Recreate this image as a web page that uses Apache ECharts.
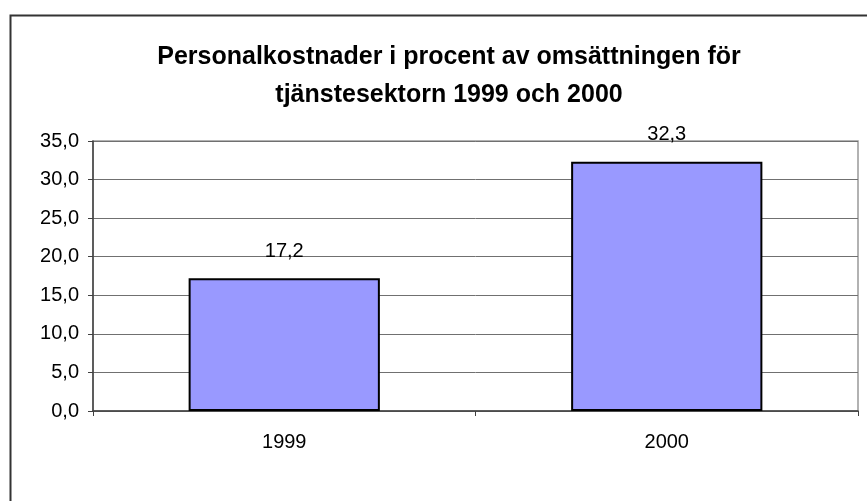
<!DOCTYPE html>
<html><head><meta charset="utf-8">
<script src="https://cdn.jsdelivr.net/npm/echarts@6/dist/echarts.min.js"></script>
<style>html,body{margin:0;padding:0;background:#fff}#c{width:867px;height:501px}</style>
</head><body><div id="c"></div>
<script>
const titleText = 'Personalkostnader i procent av omsättningen för\ntjänstesektorn 1999 och 2000';
const categories = ['1999', '2000'];
const values = [17.2, 32.3];
const yMin = 0, yMax = 35, yStep = 5;

const fmt = v => v.toFixed(1).replace('.', ',');
const chart = echarts.init(document.getElementById('c'), null, {renderer: 'canvas'});
chart.setOption({
  animation: false,
  backgroundColor: '#fff',
  textStyle: {fontFamily: 'Liberation Sans, Arial, sans-serif'},
  title: {
    text: titleText,
    left: 449, top: 38, padding: 0, textAlign: 'center',
    textStyle: {fontSize: 25, fontWeight: 'bold', color: '#000', lineHeight: 38, fontFamily: 'Liberation Sans, Arial, sans-serif'}
  },
  graphic: [{
    type: 'rect', silent: true, z: -1,
    shape: {x: 10.5, y: 15.5, width: 900, height: 600},
    style: {fill: 'none', stroke: '#333', lineWidth: 2}
  }],
  grid: {left: 93, right: 9, top: 141, bottom: 90, containLabel: false, show: true, borderColor: '#999', borderWidth: 1.5, backgroundColor: 'transparent'},
  xAxis: {
    type: 'category', data: categories,
    axisLine: {lineStyle: {color: '#404040', width: 1.5}},
    axisTick: {show: true, length: 5, lineStyle: {color: '#404040'}},
    axisLabel: {fontSize: 20, color: '#000', margin: 21}
  },
  yAxis: {
    type: 'value', min: yMin, max: yMax, interval: yStep,
    axisLine: {show: true, lineStyle: {color: '#404040', width: 1.5}},
    axisTick: {show: true, length: 5, lineStyle: {color: '#404040'}},
    axisLabel: {fontSize: 20, color: '#000', margin: 14, formatter: fmt},
    splitLine: {show: true, lineStyle: {color: '#707070', width: 1}}
  },
  series: [{
    type: 'bar', data: values, barWidth: '50%',
    itemStyle: {color: '#9999FF', borderColor: '#000', borderWidth: 2},
    label: {show: true, position: 'top', distance: 17, fontSize: 20, color: '#000', formatter: p => fmt(p.value)}
  }]
});
</script></body></html>
